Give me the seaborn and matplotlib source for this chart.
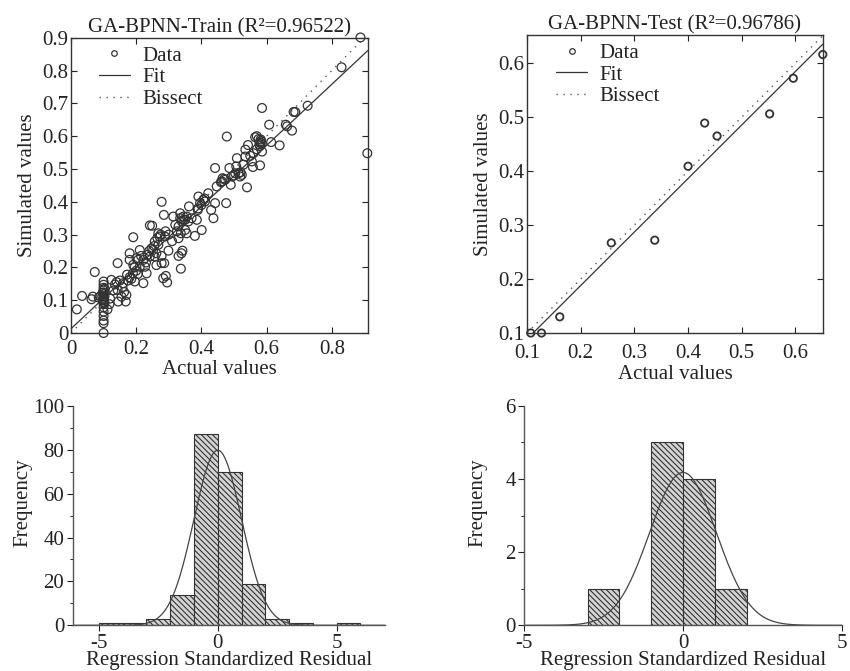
import numpy as np
import pandas as pd
import matplotlib
matplotlib.use("Agg")
import matplotlib.pyplot as plt
from matplotlib.lines import Line2D
from matplotlib.ticker import MultipleLocator, FuncFormatter
import seaborn as sns

# ---- training set: actual vs simulated ----
train_actual = [
    0.018, 0.034, 0.063, 0.067, 0.073, 0.085, 0.090,
    0.100, 0.100, 0.100, 0.100, 0.100, 0.100, 0.100, 0.100, 0.100, 0.100, 0.100,
    0.100, 0.100, 0.100, 0.100, 0.100, 0.100, 0.100, 0.097, 0.103, 0.097, 0.103, 0.103,
    0.112, 0.118, 0.120, 0.124, 0.130, 0.135, 0.140, 0.143, 0.145, 0.150, 0.155, 0.158,
    0.160, 0.163, 0.168, 0.170, 0.172, 0.143, 0.175, 0.180,
    0.191, 0.180, 0.180, 0.190, 0.196, 0.206, 0.211, 0.222, 0.227, 0.232, 0.211, 0.247,
    0.242, 0.257, 0.262, 0.242, 0.249, 0.278, 0.285, 0.268, 0.272, 0.288, 0.268, 0.278,
    0.286, 0.291, 0.295, 0.283, 0.299, 0.278, 0.252, 0.257, 0.262, 0.235, 0.222, 0.201,
    0.191, 0.200, 0.215, 0.230, 0.240, 0.255, 0.265, 0.275, 0.290, 0.185, 0.195, 0.205,
    0.314, 0.330, 0.337, 0.339, 0.342, 0.330, 0.337, 0.330, 0.335, 0.335, 0.345, 0.355,
    0.350, 0.362, 0.380, 0.386, 0.389, 0.391, 0.401, 0.396, 0.406, 0.411, 0.421, 0.430,
    0.437, 0.442, 0.447, 0.340, 0.345, 0.350, 0.320, 0.355, 0.370, 0.390, 0.400, 0.410,
    0.360, 0.300, 0.310, 0.325,
    0.442, 0.463, 0.465, 0.473, 0.476, 0.478, 0.486, 0.490, 0.493, 0.504, 0.509, 0.507,
    0.514, 0.519, 0.524, 0.529, 0.535, 0.540, 0.543, 0.535, 0.555, 0.558, 0.560, 0.565,
    0.575, 0.580, 0.583, 0.578, 0.585, 0.582, 0.580, 0.580, 0.586, 0.586, 0.460, 0.470,
    0.500, 0.520, 0.550, 0.570, 0.570,
    0.608, 0.614, 0.640, 0.659, 0.663, 0.678, 0.683, 0.688, 0.726, 0.830, 0.888, 0.909,
]
train_sim = [
    0.072, 0.113, 0.103, 0.111, 0.186, 0.108, 0.112,
    0.000, 0.030, 0.038, 0.052, 0.065, 0.078, 0.088, 0.095, 0.100, 0.104, 0.108,
    0.112, 0.118, 0.124, 0.130, 0.138, 0.147, 0.157, 0.100, 0.112, 0.122, 0.092, 0.135,
    0.072, 0.088, 0.105, 0.162, 0.130, 0.148, 0.155, 0.131, 0.096, 0.160, 0.111, 0.140,
    0.152, 0.125, 0.096, 0.116, 0.178, 0.213, 0.160, 0.170,
    0.292, 0.243, 0.223, 0.182, 0.157, 0.223, 0.253, 0.152, 0.202, 0.182, 0.202, 0.258,
    0.233, 0.233, 0.207, 0.328, 0.327, 0.400, 0.360, 0.304, 0.294, 0.294, 0.269, 0.235,
    0.213, 0.174, 0.154, 0.167, 0.251, 0.213, 0.253, 0.279, 0.243, 0.238, 0.223, 0.228,
    0.208, 0.190, 0.235, 0.215, 0.250, 0.265, 0.290, 0.300, 0.310, 0.165, 0.200, 0.180,
    0.355, 0.235, 0.196, 0.243, 0.251, 0.289, 0.304, 0.325, 0.350, 0.365, 0.345, 0.304,
    0.314, 0.386, 0.296, 0.345, 0.375, 0.416, 0.314, 0.396, 0.406, 0.401, 0.426, 0.375,
    0.350, 0.396, 0.447, 0.340, 0.355, 0.345, 0.330, 0.355, 0.350, 0.380, 0.390, 0.410,
    0.340, 0.300, 0.280, 0.310,
    0.503, 0.462, 0.472, 0.467, 0.396, 0.599, 0.503, 0.452, 0.477, 0.487, 0.533, 0.508,
    0.487, 0.477, 0.482, 0.513, 0.538, 0.444, 0.573, 0.559, 0.523, 0.506, 0.548, 0.597,
    0.591, 0.580, 0.585, 0.575, 0.578, 0.590, 0.570, 0.511, 0.686, 0.553, 0.460, 0.470,
    0.480, 0.490, 0.540, 0.560, 0.600,
    0.635, 0.582, 0.572, 0.635, 0.630, 0.617, 0.674, 0.674, 0.693, 0.810, 0.901, 0.548,
]

# ---- test set ----
test_actual = [0.107, 0.127, 0.161, 0.257, 0.338, 0.400, 0.431, 0.454, 0.552, 0.596, 0.651]
test_sim = [0.100, 0.100, 0.130, 0.267, 0.272, 0.409, 0.489, 0.465, 0.506, 0.572, 0.616]

train_title = "GA-BPNN-Train (R\u00b2=0.96522)"
test_title = "GA-BPNN-Test (R\u00b2=0.96786)"

# ---- residual histograms (bin edges + counts) ----
train_edges = [-5, -4, -3, -2, -1, 0, 1, 2, 3, 4, 5, 6]
train_counts = [1, 1, 3, 14, 87, 70, 19, 3, 1, 0, 1]
train_sd = 1.0
test_edges = [-3, -2, -1, 0, 1, 2]
test_counts = [1, 0, 5, 4, 1]
test_sd = 1.05

sns.set_style("ticks")
plt.rcParams["font.family"] = ["Liberation Serif", "DejaVu Serif"]
plt.rcParams["hatch.linewidth"] = 0.8
plt.rcParams["axes.unicode_minus"] = False
FS = 15
INK = "#222222"
plt.rcParams["text.color"] = INK
plt.rcParams["axes.labelcolor"] = INK
plt.rcParams["xtick.color"] = INK
plt.rcParams["ytick.color"] = INK

fig = plt.figure(figsize=(8.5, 6.71), dpi=100)
ax_tr = fig.add_axes([0.0835, 0.5037, 0.349, 0.440])
ax_te = fig.add_axes([0.620, 0.5037, 0.348, 0.444])
ax_htr = fig.add_axes([0.0855, 0.0681, 0.368, 0.327])
ax_hte = fig.add_axes([0.6165, 0.0681, 0.374, 0.327])

fmt = FuncFormatter(lambda v, p: f"{v:g}")


def scatter_panel(ax, actual, sim, title, lims_x, lims_y, xstep, ystep, msize, mlw,
                  leg_x, xpad):
    df = pd.DataFrame({"actual": actual, "sim": sim})
    ax.set_xlim(*lims_x)
    ax.set_ylim(*lims_y)
    sns.scatterplot(data=df, x="actual", y="sim", ax=ax, marker="o", s=msize,
                    facecolor="none", edgecolor="#333333", linewidth=mlw, clip_on=False,
                    zorder=3)
    sns.regplot(data=df, x="actual", y="sim", ax=ax, scatter=False, ci=None,
                truncate=False, line_kws={"color": "#333333", "lw": 0.9})
    ax.axline((0, 0), slope=1, color="#555555", ls=(0, (1, 4)), lw=1.0)
    ax.set_xlim(*lims_x)
    ax.set_ylim(*lims_y)
    ax.xaxis.set_major_locator(MultipleLocator(xstep))
    ax.yaxis.set_major_locator(MultipleLocator(ystep))
    ax.xaxis.set_major_formatter(fmt)
    ax.yaxis.set_major_formatter(fmt)
    ax.tick_params(direction="in", top=True, right=True, length=4, width=0.8,
                   labelsize=FS, pad=2)
    ax.tick_params(axis="x", pad=xpad)
    for sp in ax.spines.values():
        sp.set_color("#333333")
        sp.set_linewidth(1.0)
    ax.set_title(title, fontsize=FS, pad=4)
    ax.set_xlabel("Actual values", fontsize=FS, labelpad=1)
    ax.set_ylabel("Simulated values", fontsize=FS, labelpad=4)
    handles = [
        Line2D([], [], marker="o", ls="none", mfc="none", mec="#333333", ms=4, mew=0.9),
        Line2D([], [], color="#333333", lw=0.9),
        Line2D([], [], color="#555555", ls=(0, (1, 4)), lw=1.0),
    ]
    ax.legend(handles, ["Data", "Fit", "Bissect"], loc="upper left",
              bbox_to_anchor=(leg_x, 1.035), frameon=False, fontsize=FS,
              handlelength=1.5, handletextpad=0.6, labelspacing=0.1)


scatter_panel(ax_tr, train_actual, train_sim, train_title, (0, 0.91), (0, 0.9),
              0.2, 0.1, 40, 0.9, 0.03, 5)
scatter_panel(ax_te, test_actual, test_sim, test_title, (0.1, 0.651), (0.1, 0.652),
              0.1, 0.1, 28, 1.3, 0.035, 8)


def hist_panel(ax, edges, counts, sd, xlim, ylim, ystep, label_x):
    edges = [float(e) for e in edges]
    centers = [(a + b) / 2 for a, b in zip(edges[:-1], edges[1:])]
    df = pd.DataFrame({"resid": centers, "count": [float(c) for c in counts]})
    sns.histplot(data=df, x="resid", weights="count", bins=edges, ax=ax, stat="count",
                 color="#d4d4d4", edgecolor="#333333", linewidth=0.8,
                 hatch="\\" * 6, alpha=1)
    width = edges[1] - edges[0]
    n = df["count"].sum()
    xs = np.linspace(xlim[0], xlim[1], 400)
    ax.plot(xs, n * width * np.exp(-0.5 * (xs / sd) ** 2) / (sd * np.sqrt(2 * np.pi)),
            color="#444444", lw=0.9)
    ax.set_xlim(*xlim)
    ax.set_ylim(*ylim)
    sns.despine(ax=ax)
    for side in ("left", "bottom"):
        ax.spines[side].set_color("#555555")
        ax.spines[side].set_linewidth(1.0)
    ax.xaxis.set_major_locator(MultipleLocator(5))
    ax.yaxis.set_major_locator(MultipleLocator(ystep))
    ax.yaxis.set_minor_locator(MultipleLocator(ystep / 2))
    ax.tick_params(direction="out", length=4, width=0.8, labelsize=FS, pad=2)
    ax.tick_params(which="minor", direction="out", length=2.5, width=0.7)
    ax.set_xlabel("Regression Standardized Residual", fontsize=FS, labelpad=-1)
    ax.set_ylabel("Frequency", fontsize=FS)
    ax.yaxis.set_label_coords(label_x, 0.56)


hist_panel(ax_htr, train_edges, train_counts, train_sd, (-6.1, 7.05), (0, 100), 20, -0.13)
hist_panel(ax_hte, test_edges, test_counts, test_sd, (-5, 5), (0, 6), 2, -0.116)

fig.savefig("out.png", dpi=100)
